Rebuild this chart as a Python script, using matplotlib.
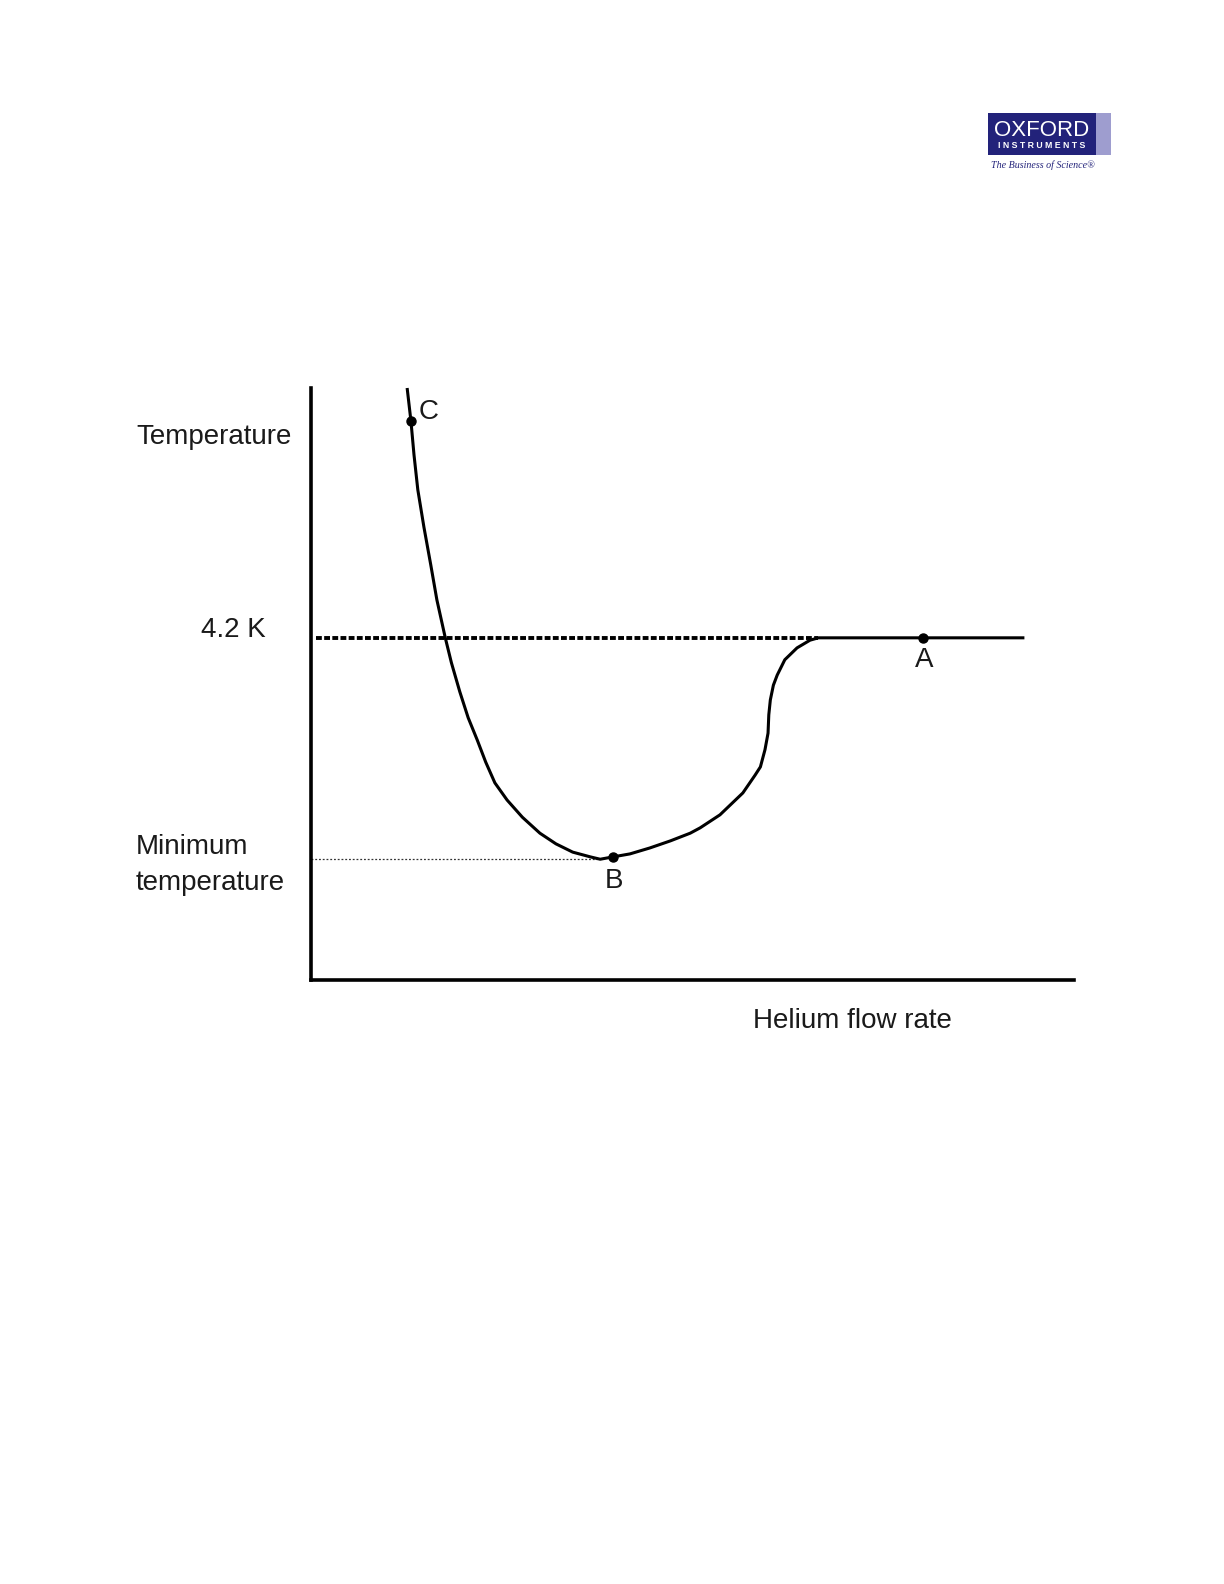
import matplotlib
matplotlib.use("Agg")
import matplotlib.pyplot as plt
from matplotlib.patches import Rectangle

plt.rcParams['font.family'] = ['Liberation Sans', 'DejaVu Sans']

# helium flow rate vs temperature (arbitrary units, 0..100 on both axes)
flow = [12.6, 13.1, 13.5, 14.0, 14.8, 15.7, 16.5, 17.6, 18.4, 19.5, 20.6,
        21.8, 22.9, 24.1, 25.7, 27.7, 30.0, 32.1, 34.3, 36.6, 37.9, 39.6,
        41.8, 44.4, 47.1, 49.7, 51.0, 53.6, 56.6, 58.2, 58.9, 59.5, 59.9,
        60.0, 60.2, 60.6, 61.1, 62.1, 63.7, 65.4, 66.5, 93.5]
temp = [100.0, 94.4, 88.7, 82.8, 76.5, 70.1, 64.2, 57.8, 53.6, 48.7, 44.3,
        40.5, 36.8, 33.3, 30.4, 27.5, 24.8, 23.0, 21.6, 20.8, 20.4, 20.8,
        21.3, 22.3, 23.5, 24.8, 25.7, 27.9, 31.6, 34.6, 36.0, 38.9, 41.7,
        44.8, 47.3, 49.8, 51.5, 54.1, 56.1, 57.4, 57.8, 57.8]

t_42k = 57.8
t_min = 20.4
points = ['C', 'B', 'A']
point_flow = [13.1, 39.6, 80.2]
point_temp = [94.4, 20.8, 57.8]

W, H = 1224, 1584
fig = plt.figure(figsize=(W / 100, H / 100), dpi=100)

def fx(px):
    return px / W

def fy(py):
    return 1 - py / H

ax = fig.add_axes([fx(311), fy(980), (1074 - 311) / W, (980 - 388) / H])
ax.set_xlim(0, 100)
ax.set_ylim(0, 100)
for s in ['top', 'right']:
    ax.spines[s].set_visible(False)
for s in ['left', 'bottom']:
    ax.spines[s].set_linewidth(2.6)
    ax.spines[s].set_capstyle('projecting')
ax.set_xticks([])
ax.set_yticks([])

# reference lines
ax.plot([0.6, flow[-2]], [t_42k, t_42k], color='black', lw=2.8,
        linestyle=(0, (1.5, 0.6)), solid_capstyle='butt')
ax.plot([0, 37.5], [t_min, t_min], color='#333333', lw=0.9,
        linestyle=(0, (1.5, 1.5)))

ax.plot(flow, temp, color='black', lw=2.2, solid_joinstyle='round',
        solid_capstyle='butt', clip_on=False)
ax.plot(point_flow, point_temp, 'o', color='black', ms=6.5, clip_on=False)

# label offsets in data units
label_off = [(2.3, 1.6), (0.1, -4.0), (0.1, -3.7)]
for name, x, y, (dx, dy) in zip(points, point_flow, point_temp, label_off):
    ax.text(x + dx, y + dy, name, fontsize=20, ha='center', va='center',
            color='#1a1a1a')

txt = dict(fontsize=20, color='#1a1a1a', va='center', ha='left')
fig.text(fx(136), fy(437), 'Temperature', **txt)
fig.text(fx(201), fy(630), '4.2 K', **txt)
fig.text(fx(136), fy(847), 'Minimum', **txt)
fig.text(fx(136), fy(883), 'temperature', **txt)
fig.text(fx(753), fy(1021), 'Helium flow rate', **txt)

# logo
lg = fig.add_axes([fx(980), fy(175), 140 / W, 70 / H])
lg.set_xlim(980, 1120)
lg.set_ylim(175, 105)
lg.axis('off')
lg.add_patch(Rectangle((988, 113), 108, 42, color='#22227a', lw=0))
lg.add_patch(Rectangle((1096, 113), 15, 42, color='#9e9dcf', lw=0))
lg.text(1042, 130, 'OXFORD', fontsize=16, color='white', ha='center',
        va='center', fontweight='light')
lg.text(1042, 146, 'I N S T R U M E N T S', fontsize=6.3, color='white',
        ha='center', va='center', fontweight='bold')
lg.text(1043, 165, 'The Business of Science\u00ae', fontsize=7.2,
        color='#22227a', ha='center', va='center', style='italic',
        family=['Liberation Serif', 'DejaVu Serif'])

fig.savefig('out.png', dpi=100, facecolor='white')
